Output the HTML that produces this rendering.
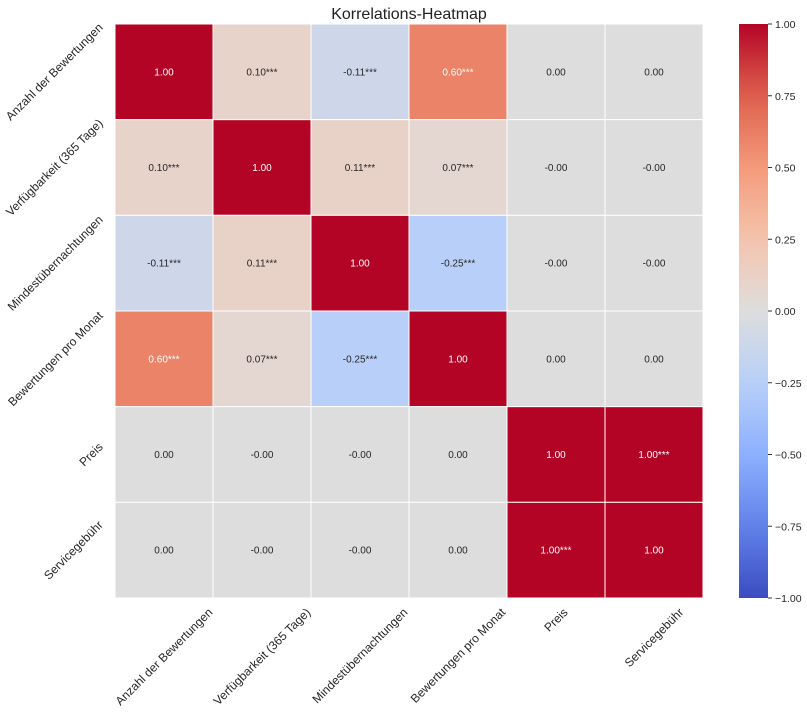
<!DOCTYPE html>
<html><head><meta charset="utf-8"><style>
body{margin:0;background:#fff;}
svg{display:block;font-family:"Liberation Sans",Arial,sans-serif;}
</style></head><body>
<svg id="chart" width="807" height="712" viewBox="0 0 807 712">
<defs><linearGradient id="cbgrad" x1="0" y1="1" x2="0" y2="0"></linearGradient></defs>
<text x="409" y="19" font-size="16" text-anchor="middle" fill="#222">Korrelations-Heatmap</text>
<g id="cells"></g><g id="xlabels"></g><g id="ylabels"></g><g id="cbar"></g>
</svg>
<script>
const labels = ["Anzahl der Bewertungen","Verfügbarkeit (365 Tage)","Mindestübernachtungen","Bewertungen pro Monat","Preis","Servicegebühr"];
const values = [
 [1.00,0.10,-0.11,0.60,0.00,0.00],
 [0.10,1.00,0.11,0.07,-0.00,-0.00],
 [-0.11,0.11,1.00,-0.25,-0.00,-0.00],
 [0.60,0.07,-0.25,1.00,0.00,0.00],
 [0.00,-0.00,-0.00,0.00,1.00,1.00],
 [0.00,-0.00,-0.00,0.00,1.00,1.00]
];
const annotations = [
 ["1.00","0.10***","-0.11***","0.60***","0.00","0.00"],
 ["0.10***","1.00","0.11***","0.07***","-0.00","-0.00"],
 ["-0.11***","0.11***","1.00","-0.25***","-0.00","-0.00"],
 ["0.60***","0.07***","-0.25***","1.00","0.00","0.00"],
 ["0.00","-0.00","-0.00","0.00","1.00","1.00***"],
 ["0.00","-0.00","-0.00","0.00","1.00***","1.00"]
];
const cbTicks = [1.00,0.75,0.50,0.25,0.00,-0.25,-0.50,-0.75,-1.00];
const NS="http://www.w3.org/2000/svg";
const X0=115,X1=703,Y0=24,Y1=598;
const cw=(X1-X0)/labels.length, ch=(Y1-Y0)/labels.length;
const stops=[[-1,[59,76,192]],[-0.75,[98,130,234]],[-0.5,[141,176,254]],[-0.25,[184,208,249]],[0,[221,221,221]],[0.25,[245,196,173]],[0.5,[244,154,123]],[0.75,[222,96,77]],[1,[180,4,38]]];
function color(v){v=Math.max(-1,Math.min(1,v));for(let i=0;i<stops.length-1;i++){const[a,ca]=stops[i],[b,cb]=stops[i+1];if(v<=b){const t=(v-a)/(b-a);return "rgb("+ca.map((c,k)=>Math.round(c+(cb[k]-c)*t)).join(",")+")";}}return "rgb(180,4,38)";}
function mk(t,attrs,p){const e=document.createElementNS(NS,t);for(const k in attrs)e.setAttribute(k,attrs[k]);p.appendChild(e);return e;}
const xs=i=>X0+i*cw, ys=j=>Y0+j*ch;
const cells=document.getElementById('cells');
values.forEach((row,j)=>row.forEach((v,i)=>{
 const r=mk('rect',{x:xs(i),y:ys(j),width:cw,height:ch,fill:color(v),stroke:'#fff','stroke-width':1},cells);
 
 
 const t=mk('text',{x:xs(i)+cw/2,y:ys(j)+ch/2+3.5,'font-size':10,'text-anchor':'middle',fill:Math.abs(v)>0.5?'#fff':'#262626'},cells);
 t.textContent=annotations[j][i];
 
 
}));
const FS=12;
const xl=document.getElementById('xlabels'),yl=document.getElementById('ylabels');
labels.forEach((l,i)=>{
 const t=mk('text',{'font-size':FS,fill:'#262626','text-anchor':'middle'},xl);
 t.textContent=l;
 
 
 const L=t.getComputedTextLength(),h=(L+FS)*0.7071;
 const cx=xs(i)+cw/2,cy=606+h/2;
 t.setAttribute('x',cx);t.setAttribute('y',cy+4);
 t.setAttribute('transform','rotate(-45 '+cx+' '+cy+')');
 const u=mk('text',{'font-size':FS,fill:'#262626','text-anchor':'middle'},yl);
 u.textContent=l;
 
 
 const L2=u.getComputedTextLength(),w=(L2+FS)*0.7071;
 const ux=105-w/2,uy=ys(i)+ch/2;
 u.setAttribute('x',ux);u.setAttribute('y',uy+4);
 u.setAttribute('transform','rotate(-45 '+ux+' '+uy+')');
});
const g=document.getElementById('cbgrad');
for(let k=0;k<=20;k++){const v=-1+k/10;mk('stop',{offset:(k/20),'stop-color':color(v)},g);}
const cb=document.getElementById('cbar');
const CX0=739,CX1=768,CY0=24,CY1=598;
const cbr=mk('rect',{x:CX0,y:CY0,width:CX1-CX0,height:CY1-CY0,fill:'url(#cbgrad)'},cb);


const cy=v=>CY1-(v+1)/2*(CY1-CY0);
cbTicks.forEach(v=>{
 mk('line',{x1:CX1,x2:CX1+4,y1:cy(v),y2:cy(v),stroke:'#333'},cb);
 const t=mk('text',{x:CX1+7,y:cy(v)+4,'font-size':10.5,fill:'#262626'},cb);
 t.textContent=(v<0?'\u2212'+Math.abs(v).toFixed(2):v.toFixed(2));
 
 
});
</script>
</body></html>
